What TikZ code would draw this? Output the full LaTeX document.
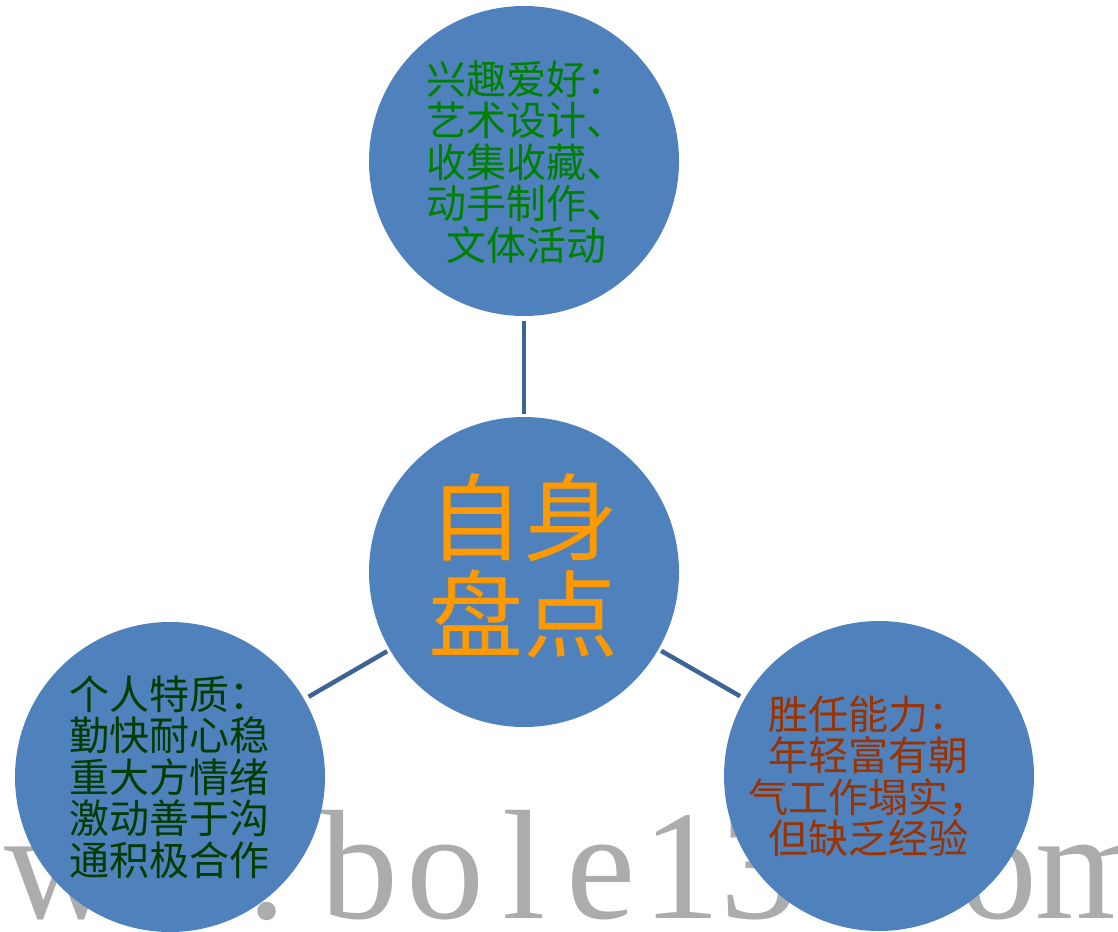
\documentclass[tikz,border=0pt]{standalone}
\usepackage{fontspec}
\setmainfont{Noto Sans CJK SC}
\newfontfamily\wmfont{Liberation Serif}
\definecolor{bubbleblue}{RGB}{79,129,189}
\definecolor{spokeblue}{RGB}{62,100,150}
\definecolor{hobbygreen}{RGB}{0,128,0}
\definecolor{traitgreen}{RGB}{0,60,0}
\definecolor{abilityred}{RGB}{153,51,0}
\definecolor{selforange}{RGB}{255,153,0}
\definecolor{wmgrey}{RGB}{172,172,172}

\begin{document}
\begin{tikzpicture}[x=1pt,y=-1pt,
	bubble/.style={circle,fill=bubbleblue,minimum size=310pt,inner sep=0pt},
	spoke/.style={draw=spokeblue,line width=4.5pt,shorten <=5pt,shorten >=3pt},
	smalltext/.style={align=center,inner sep=0pt,font=\fontsize{40}{41.5}\selectfont},
	wmark/.style={text=wmgrey,inner sep=0pt,anchor=base,font=\wmfont\fontsize{156}{156}\selectfont}]
		\useasboundingbox (0,0) rectangle (1118,931);
		% watermark behind everything
		\foreach \ch/\x in {w/61,w/140,w/195,./267,b/359,o/445,l/524,e/601,1/681,3/759,./835,c/905,o/998,m/1096}
			\node [wmark] (wm\x) at (\x,918) {\ch};
		
		\node [bubble] (self) at (524,572) {};
		\node [bubble] (hobby) at (524,161) {};
		\node [bubble] (trait) at (170,777) {};
		\node [bubble] (ability) at (879,776) {};
		
		\draw [spoke] (hobby) to (self);
		\draw [spoke] (trait) to (self);
		\draw [spoke] (ability) to (self);
		
		\node [smalltext,text=hobbygreen] (hobbytext) at (526,162) {兴趣爱好：\\艺术设计、\\收集收藏、\\动手制作、\\文体活动};
		\node [smalltext,text=traitgreen] (traittext) at (169,777) {个人特质：\\勤快耐心稳\\重大方情绪\\激动善于沟\\通积极合作};
		\node [smalltext,text=abilityred] (abilitytext) at (868,776) {胜任能力：\\年轻富有朝\\气工作塌实，\\但缺乏经验};
		\node [align=center,inner sep=0pt,text=selforange,font=\fontsize{95}{97}\selectfont] (selftext) at (523,566) {自身\\盘点};
\end{tikzpicture}
\end{document}
